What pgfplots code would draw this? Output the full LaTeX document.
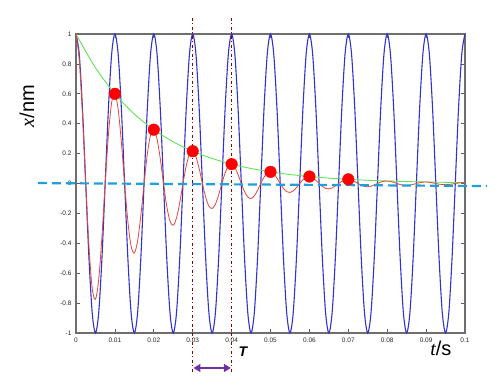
\documentclass[border=0pt]{standalone}
\usepackage{fontspec}
\setmainfont{Liberation Sans}
\newfontfamily\serifit{Liberation Serif}
\usepackage{pgfplots}
\usepackage{pgfplotstable}
\pgfplotsset{compat=1.18}
\usetikzlibrary{arrows.meta}
\definecolor{cblue}{RGB}{50,50,205}
\definecolor{cred}{RGB}{228,70,55}
\definecolor{cgreen}{RGB}{100,225,90}
\definecolor{cdot}{RGB}{255,0,0}
\definecolor{ccyan}{RGB}{30,160,220}
\definecolor{cdark}{RGB}{140,0,0}
\definecolor{cpurple}{RGB}{112,48,160}
\definecolor{cframe}{RGB}{110,110,110}
\pgfplotstableread{
t blue red
0 1 1
0.000833 0.866 0.8299
0.001667 0.5 0.4592
0.0025 0 0
0.003333 -0.5 -0.4217
0.004167 -0.866 -0.7000
0.005 -1 -0.7746
0.005833 -0.866 -0.6428
0.006667 -0.5 -0.3557
0.0075 0 0
0.008333 0.5 0.3267
0.009167 0.866 0.5422
0.01 1 0.6
0.010833 0.866 0.4979
0.011667 0.5 0.2755
0.0125 0 0
0.013333 -0.5 -0.2530
0.014167 -0.866 -0.4200
0.015 -1 -0.4648
0.015833 -0.866 -0.3857
0.016667 -0.5 -0.2134
0.0175 0 0
0.018333 0.5 0.1960
0.019167 0.866 0.3253
0.02 1 0.36
0.020833 0.866 0.2988
0.021667 0.5 0.1653
0.0225 0 0
0.023333 -0.5 -0.1518
0.024167 -0.866 -0.2520
0.025 -1 -0.2789
0.025833 -0.866 -0.2314
0.026667 -0.5 -0.1281
0.0275 0 0
0.028333 0.5 0.1176
0.029167 0.866 0.1952
0.03 1 0.216
0.030833 0.866 0.1793
0.031667 0.5 0.0992
0.0325 0 0
0.033333 -0.5 -0.0911
0.034167 -0.866 -0.1512
0.035 -1 -0.1673
0.035833 -0.866 -0.1388
0.036667 -0.5 -0.0768
0.0375 0 0
0.038333 0.5 0.0706
0.039167 0.866 0.1171
0.04 1 0.1296
0.040833 0.866 0.1076
0.041667 0.5 0.0595
0.0425 0 0
0.043333 -0.5 -0.0547
0.044167 -0.866 -0.0907
0.045 -1 -0.1004
0.045833 -0.866 -0.0833
0.046667 -0.5 -0.0461
0.0475 0 0
0.048333 0.5 0.0423
0.049167 0.866 0.0703
0.05 1 0.0778
0.050833 0.866 0.0645
0.051667 0.5 0.0357
0.0525 0 0
0.053333 -0.5 -0.0328
0.054167 -0.866 -0.0544
0.055 -1 -0.0602
0.055833 -0.866 -0.0500
0.056667 -0.5 -0.0277
0.0575 0 0
0.058333 0.5 0.0254
0.059167 0.866 0.0422
0.06 1 0.0467
0.060833 0.866 0.0387
0.061667 0.5 0.0214
0.0625 0 0
0.063333 -0.5 -0.0197
0.064167 -0.866 -0.0327
0.065 -1 -0.0361
0.065833 -0.866 -0.0300
0.066667 -0.5 -0.0166
0.0675 0 0
0.068333 0.5 0.0152
0.069167 0.866 0.0253
0.07 1 0.0280
0.070833 0.866 0.0232
0.071667 0.5 0.0129
0.0725 0 0
0.073333 -0.5 -0.0118
0.074167 -0.866 -0.0196
0.075 -1 -0.0217
0.075833 -0.866 -0.0180
0.076667 -0.5 -0.0100
0.0775 0 0
0.078333 0.5 0.0091
0.079167 0.866 0.0152
0.08 1 0.0168
0.080833 0.866 0.0139
0.081667 0.5 0.0077
0.0825 0 0
0.083333 -0.5 -0.0071
0.084167 -0.866 -0.0118
0.085 -1 -0.0130
0.085833 -0.866 -0.0108
0.086667 -0.5 -0.0060
0.0875 0 0
0.088333 0.5 0.0055
0.089167 0.866 0.0091
0.09 1 0.0101
0.090833 0.866 0.0084
0.091667 0.5 0.0046
0.0925 0 0
0.093333 -0.5 -0.0043
0.094167 -0.866 -0.0071
0.095 -1 -0.0078
0.095833 -0.866 -0.0065
0.096667 -0.5 -0.0036
0.0975 0 0
0.098333 0.5 0.0033
0.099167 0.866 0.0055
0.1 1 0.0060
}\waves
\pgfplotstableread{
t env
0 1
0.005 0.7746
0.01 0.6
0.015 0.4648
0.02 0.36
0.025 0.2789
0.03 0.216
0.035 0.1673
0.04 0.1296
0.045 0.1004
0.05 0.0778
0.055 0.0602
0.06 0.0467
0.065 0.0361
0.07 0.0280
0.075 0.0217
0.08 0.0168
0.085 0.0130
0.09 0.0101
0.095 0.0078
0.1 0.0060
}\envelope
\pgfplotstableread{
t peak
0.01 0.6
0.02 0.36
0.03 0.216
0.04 0.1296
0.05 0.0778
0.06 0.0467
0.07 0.0280
}\peaks
\begin{document}
\begin{tikzpicture}
\useasboundingbox (-76pt,-43pt) rectangle (421pt,333pt);
\begin{axis}[
  at={(0pt,0pt)}, anchor=south west,
  scale only axis, width=389pt, height=299pt,
  xmin=0, xmax=0.1, ymin=-1, ymax=1,
  clip=false,
  axis line style={cframe, line width=1.4pt},
  tick style={cframe!80!black, line width=0.7pt},
  major tick length=4pt,
  tick align=inside,
  xtick={0,0.01,0.02,0.03,0.04,0.05,0.06,0.07,0.08,0.09,0.1},
  ytick={-1,-0.8,-0.6,-0.4,-0.2,0,0.2,0.4,0.6,0.8,1},
  scaled x ticks=false,
  /pgf/number format/fixed,
  /pgf/number format/precision=2,
  /pgf/number format/assume math mode=true,
  tick label style={font=\fontsize{6.5}{7}\selectfont, text=black!85},
  xticklabel style={yshift=-1pt},
  yticklabel style={xshift=-1pt},
]
\addplot[cblue, line width=1.1pt, smooth] table[x=t, y=blue] {\waves};
\addplot[cgreen, line width=0.9pt, smooth] table[x=t, y=env] {\envelope};
\addplot[cred, line width=0.8pt, smooth] table[x=t, y=red] {\waves};
\addplot[ccyan, line width=2.2pt, dash pattern=on 9pt off 5pt] coordinates {(-0.0098,0.003) (0.1057,-0.017)};
\addplot[cdark, line width=0.9pt, dash pattern=on 3pt off 2.5pt on 1pt off 2.5pt] coordinates {(0.03,1.11) (0.03,-1.27)};
\addplot[cdark, line width=0.9pt, dash pattern=on 3pt off 2.5pt on 1pt off 2.5pt] coordinates {(0.04,1.11) (0.04,-1.27)};
\addplot[only marks, mark=*, mark size=5.8pt, mark options={fill=cdot, draw=cdot}] table[x=t, y=peak] {\peaks};
\draw[cpurple, line width=1.6pt, {Triangle[length=7pt,width=8pt]}-{Triangle[length=7pt,width=8pt]}] (axis cs:0.0302,-1.234) -- (axis cs:0.0398,-1.234);
\node[font=\fontsize{14}{16}\selectfont\bfseries\itshape] at (axis cs:0.0429,-1.127) {T};
\node[font=\fontsize{20}{22}\selectfont] at (axis cs:0.0938,-1.105) {{\serifit\itshape t}/s};
\node[font=\fontsize{20}{22}\selectfont, rotate=90] at (axis cs:-0.0126,0.518) {{\serifit\itshape x}/nm};
\end{axis}
\end{tikzpicture}
\end{document}
